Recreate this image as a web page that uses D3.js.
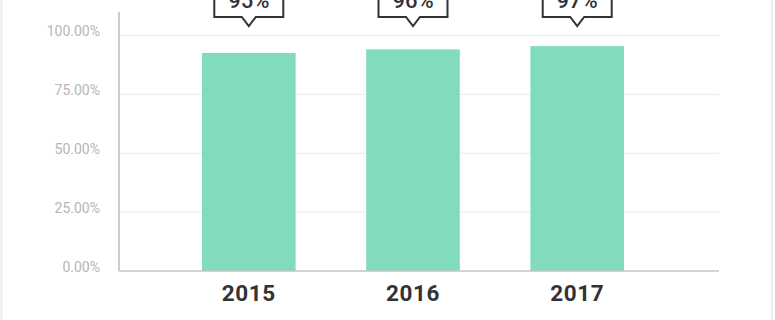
<!DOCTYPE html>
<html>
<head>
<meta charset="utf-8">
<script src="https://cdn.jsdelivr.net/npm/d3@7"></script>
<style>
  html, body { margin: 0; padding: 0; background: #fff; }
  svg { display: block; font-family: Roboto, "Noto Sans", sans-serif; }
</style>
</head>
<body>
<svg id="chart" width="775" height="320"></svg>
<script>
// ---- data ----
const years = ["2015", "2016", "2017"];
const values = [92.6, 94.1, 95.5];           // bar heights as drawn (percent)
const calloutLabels = ["95%", "96%", "97%"];  // labels shown in callouts
const yTicks = [0, 25, 50, 75, 100];

const svg = d3.select("#chart");
const W = 775, H = 320;

// frame borders
svg.append("rect").attr("x", 1.5).attr("y", -5).attr("width", W - 4.5).attr("height", H + 10)
  .attr("fill", "none").attr("stroke", "#ececec").attr("stroke-width", 2);

const plotLeft = 119, plotRight = 719;
const y = d3.scaleLinear().domain([0, 100]).range([271, 35.5]);
const x = d3.scaleBand().domain(years).range([202, 624]).paddingInner(0.43).paddingOuter(0);

// gridlines
svg.append("g").selectAll("line").data(yTicks.filter(t => t > 0)).join("line")
  .attr("x1", plotLeft).attr("x2", plotRight)
  .attr("y1", d => y(d)).attr("y2", d => y(d))
  .attr("stroke", "#ebebeb").attr("stroke-width", 1);

// y tick labels
svg.append("g").selectAll("text").data(yTicks).join("text")
  .attr("x", 100).attr("y", d => y(d) + 0.5)
  .attr("text-anchor", "end")
  .attr("font-size", 14)
  .attr("fill", "#b6b6b6")
  .text(d => d.toFixed(2) + "%");

// bars
svg.append("g").selectAll("rect").data(years).join("rect")
  .attr("x", d => x(d))
  .attr("width", x.bandwidth())
  .attr("y", (d, i) => y(values[i]))
  .attr("height", (d, i) => y(0) - y(values[i]))
  .attr("fill", "#80dcbc");

// axes lines
svg.append("line").attr("x1", plotLeft).attr("x2", plotLeft).attr("y1", 12).attr("y2", y(0))
  .attr("stroke", "#bdbdbd").attr("stroke-width", 1.5);
svg.append("line").attr("x1", plotLeft).attr("x2", plotRight).attr("y1", y(0)).attr("y2", y(0))
  .attr("stroke", "#c4c4c4").attr("stroke-width", 1.5);

// x labels
svg.append("g").selectAll("text").data(years).join("text")
  .attr("x", d => x(d) + x.bandwidth() / 2)
  .attr("y", 301)
  .attr("text-anchor", "middle")
  .attr("font-size", 22.5)
  .attr("font-weight", 700)
  .attr("letter-spacing", 0.6)
  .attr("fill", "#333")
  .text(d => d);

// callouts
const boxW = 69, boxBottom = 17, boxTop = -22, tipY = 26, tipHalf = 7;
const callouts = svg.append("g").selectAll("g").data(years).join("g")
  .attr("transform", d => `translate(${x(d) + x.bandwidth() / 2},0)`);
callouts.append("path")
  .attr("d", `M${-boxW/2},${boxTop} L${boxW/2},${boxTop} L${boxW/2},${boxBottom} L${tipHalf},${boxBottom} L0,${tipY} L${-tipHalf},${boxBottom} L${-boxW/2},${boxBottom} Z`)
  .attr("fill", "#fff").attr("stroke", "#333").attr("stroke-width", 2).attr("stroke-linejoin", "miter");
callouts.append("text")
  .attr("x", 0).attr("y", 8)
  .attr("text-anchor", "middle")
  .attr("font-size", 22)
  .attr("font-weight", 500)
  .attr("fill", "#333")
  .text((d, i) => calloutLabels[i]);
</script>
</body>
</html>
